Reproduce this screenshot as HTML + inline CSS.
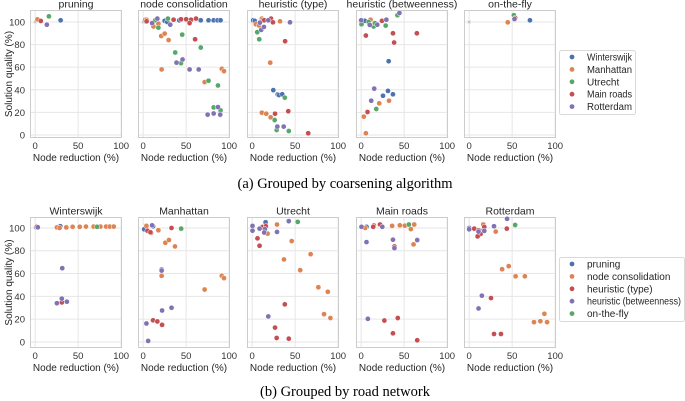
<!DOCTYPE html>
<html><head><meta charset="utf-8"><style>
body{margin:0;background:#fff;}
svg{display:block;font-family:"Liberation Sans",sans-serif;}
</style></head><body>
<svg id="chart" width="685" height="401" viewBox="0 0 685 401" xmlns="http://www.w3.org/2000/svg"></svg>
<script>
const topTitles = ["pruning","node consolidation","heuristic (type)","heuristic (betweenness)","on-the-fly"];
const networks = ["Winterswijk","Manhattan","Utrecht","Main roads","Rotterdam"];
const algorithms = ["pruning","node consolidation","heuristic (type)","heuristic (betweenness)","on-the-fly"];
const colors = ["#4c72b0","#dd8452","#55a868","#c44e52","#8172b3"];
const xTicks = [0,50,100];
const yTicks = [0,20,40,60,80,100];

const prunW=[[29.6,101.5]];
const prunM=[[2.7,102.3]];
const prunU=[[16,105]];
const prunR=[[6.6,100.9]];
const prunT=[[13.6,97.6]];
const ncW=[[25,101],[28,100],[42,101.5],[67,101.5],[76,101.5],[82,101.5],[86.5,101.5],[90,101.5]];
const ncM=[[2.3,102],[4,102],[12,96],[17.7,98.5],[21,87.6],[25,89.7],[29.6,84],[21.5,58],[71.5,46.8],[91.5,58.5],[94,56.5]];
const ncU=[[14,101.5],[17.7,95],[28.8,103],[37.3,73],[45.4,88.8],[44,63.5],[67,77.4],[76,48],[87,43.8],[82,24.4],[90,21.8]];
const ncR=[[4,100.6],[35.4,102],[44,102.4],[50,102.4],[55.7,102],[61.5,103],[54,99],[60.4,84.7]];
const ncT=[[10.4,99],[16.5,103],[31.5,97.6],[38.8,64],[45.8,66.8],[54,58],[64.6,58],[75,18],[82,19],[87,24.7],[89.6,18]];
const htW=[[1.2,101.5],[3,101],[24.6,39.7],[29.7,35.9],[31.2,35.3],[35,36]];
const htM=[[4.3,98],[7.8,97],[11.3,103],[32.4,100.6],[21,64],[11.3,19.7],[16.4,18.8],[21.5,15.6]];
const htU=[[5.9,91],[8.2,84.7],[12.9,102],[26.2,13.2],[28.5,4.4],[42.6,3.5],[38,33]];
const htR=[[21.9,103],[14,101.5],[24.2,99.7],[38.3,83],[42,21],[26.6,18.8],[65.2,1.5]];
const htT=[[9,99.4],[10.5,93],[13.7,95.6],[18.75,101.5],[44,99.7],[29.3,7.4],[36.7,7.4]];
const hbW=[[4.3,101],[32,65.3],[25.4,34.7],[31.2,39],[37,36]];
const hbM=[[10.9,102],[21,28],[32.4,30.3],[3.1,16.2],[5.5,1.5]];
const hbU=[[0.4,98],[8.6,100],[14.5,96],[16,99],[28.5,96.8],[42.2,106],[17.6,23]];
const hbR=[[5.5,88],[24.2,101],[37,90],[38.3,81.8],[64.8,90],[7.4,20.3]];
const hbT=[[0,101.5],[10,97.4],[18.75,97.6],[29.3,102],[44.5,108],[15.2,41],[11.7,30.3]];
const otfW=[[70.7,101.5]];
const otfM=[[44.9,99.7]];
const otfU=[[52,106]];
const otfR=[[53.5,103.5]];
const otfT=[[52.7,102.6]];

const botTitles = ["Winterswijk","Manhattan","Utrecht","Main roads","Rotterdam"];
const bWp=[[1.2,100.6],[29.2,101.5]];
const bWn=[[25.3,100.5],[28.4,100],[36.2,100.5],[43.6,101],[51.8,101],[59.1,101.2],[68,101.2],[75.9,101.2],[82.5,101.2],[86.8,101.2],[91.4,101.2],[2,101.5]];
const bWh=[[2,101],[31,34.7]];
const bWb=[[3.1,100.6],[31.5,64.7],[31,38],[25.3,34],[36.9,35.3]];
const bWo=[[72,101]];
const bMp=[[1.2,98.8],[11.5,101.5]];
const bMn=[[3.8,101.8],[17.7,98],[9.2,95.6],[25.8,87],[30,89.4],[37,83.8],[21.5,58],[71.5,46],[91.5,58],[94,56]];
const bMh=[[5,97.6],[8.5,96.2],[33,100],[11.5,19],[16.5,18],[22,15]];
const bMb=[[10.4,102.3],[21.5,63.6],[21.5,62.6],[22,27.6],[33,30],[3.8,16.2],[5.8,0.9]];
const bMo=[[44.2,99.4]];
const bUp=[[15.6,105]];
const bUn=[[28.9,103],[18,95],[46,88.5],[68,77],[37,72.4],[55.9,63],[77,48],[88,44],[83.6,24.4],[91,21]];
const bUh=[[12,100.9],[16,101.5],[6.2,90.9],[8.6,84.4],[38,33],[26.6,12.6],[28.5,3.5],[42.6,2.9]];
const bUb=[[0.4,101.8],[0.4,97.6],[8.6,99.4],[14.8,99],[14,96],[42.6,106],[28.9,96.5],[18.75,22.4]];
const bUo=[[53,105.3]];
const bRp=[[6.2,101]];
const bRn=[[4.7,100],[14.8,102.3],[36,101.8],[45,102.3],[50.8,102],[57.8,99],[61.7,103],[60.9,85.6]];
const bRh=[[14,101],[21.9,103],[38.7,83.8],[27,18.8],[42.6,21],[37,7.6],[65.2,1.5]];
const bRb=[[0.4,101],[24.6,101],[37,89.7],[6.2,87.6],[65.2,89.4],[38.7,82.3],[7.8,20.3]];
const bRo=[[55.5,103]];
const bTp=[[12.9,97.4]];
const bTn=[[16.4,103],[30.9,96.8],[38.3,63.8],[46,66.5],[54,57.6],[64.8,57.6],[87.5,24.7],[75.4,17.4],[82.8,18.2],[90.6,17.4]];
const bTh=[[5.9,99.4],[10.9,97.9],[13.3,94.7],[9.8,92.6],[17.6,100.9],[43.8,99.4],[25.4,38.5],[28.9,7],[37,7]];
const bTb=[[0,100],[0,98.8],[44.1,108],[28.9,101.5],[17.6,97.4],[10.9,96.8],[14.8,40.6],[10.9,29.4]];
const bTo=[[53.5,102.6]];

const topData=[[prunW,prunM,prunU,prunR,prunT],[ncW,ncM,ncU,ncR,ncT],[htW,htM,htU,htR,htT],[hbW,hbM,hbU,hbR,hbT],[otfW,otfM,otfU,otfR,otfT]];
const botData=[[bWp,bWn,bWh,bWb,bWo],[bMp,bMn,bMh,bMb,bMo],[bUp,bUn,bUh,bUb,bUo],[bRp,bRn,bRh,bRb,bRo],[bTp,bTn,bTh,bTb,bTo]];
const botColors=["#4c72b0","#dd8452","#c44e52","#8172b3","#55a868"];

const NS="http://www.w3.org/2000/svg";
const svg=document.getElementById('chart');
function el(tag,attrs,parent){const e=document.createElementNS(NS,tag);for(const k in attrs)e.setAttribute(k,attrs[k]);(parent||svg).appendChild(e);return e;}

const panelLefts=[30,138,247,356,464];
const PW=92;
const XMIN=-6,XMAX=101;

function drawRow(rowName,titles,data,cols,top,bottom,ymin,ymax,showGray){
  titles.forEach((t,i)=>{
    const L=panelLefts[i];
    const g=el('g',{});
    
    
    const sx=v=>L+(v-XMIN)/(XMAX-XMIN)*PW;
    const sy=v=>bottom-(v-ymin)/(ymax-ymin)*(bottom-top);
    el('rect',{x:L,y:top,width:PW,height:bottom-top,fill:'#fff'},g);
    yTicks.forEach(v=>{
      const ln=el('line',{x1:L,x2:L+PW,y1:sy(v),y2:sy(v),stroke:'#e6e6e6','stroke-width':1},g);
      
      
      if(i===0){const tx=el('text',{x:L-5,y:sy(v)+3.5,'text-anchor':'end','font-size':'9.5',fill:'#333'},g);tx.textContent=v;
        
        }
    });
    xTicks.forEach(v=>{
      const ln=el('line',{x1:sx(v),x2:sx(v),y1:top,y2:bottom,stroke:'#e6e6e6','stroke-width':1},g);
      
      
      const tx=el('text',{x:sx(v),y:bottom+11,'text-anchor':'middle','font-size':'9.5',fill:'#333'},g);tx.textContent=v;
      
      
    });
    el('rect',{x:L+0.5,y:top+0.5,width:PW-1,height:bottom-top-1,fill:'none',stroke:'#cccccc','stroke-width':1},g);
    const tt=el('text',{x:L+PW/2,y:top-2.5,'text-anchor':'middle','font-size':'10.5',fill:'#262626'},g);tt.textContent=t;
    
    
    const xl=el('text',{x:L+PW/2,y:bottom+23,'text-anchor':'middle','font-size':'10',fill:'#262626'},g);xl.textContent='Node reduction (%)';
    
    
    if(showGray){
      const gx=el('text',{x:sx(0),y:sy(100)+2.5,'text-anchor':'middle','font-size':'7',fill:'#aaa'},g);gx.textContent='×';
      
      
    }
    data[i].forEach((series,s)=>{
      series.forEach(p=>{
        const c=el('circle',{cx:sx(p[0]),cy:sy(p[1]),r:2.6,fill:cols[s],stroke:'#fff','stroke-width':0.5},g);
        
        
      });
    });
  });
  const yl=el('text',{transform:`translate(12,${(top+bottom)/2}) rotate(-90)`,'text-anchor':'middle','font-size':'10',fill:'#262626'});
  yl.textContent='Solution quality (%)';
  
  
}
drawRow('top',topTitles,topData,colors,10,138,-2.7,110.6,true);
drawRow('bottom',botTitles,botData,botColors,217,348,-5.3,109.6,false);

function legend(items,cols,x,y,w,h,name){
  const g=el('g',{});
  
  
  el('rect',{x:x+0.5,y:y+0.5,width:w,height:h,fill:'#fff',stroke:'#d9d9d9',rx:2},g);
  items.forEach((t,i)=>{
    const yy=y+7+i*12.4;
    const e=el('g',{},g);
    
    
    el('circle',{cx:x+13,cy:yy,r:2.4,fill:cols[i]},e);
    const tx=el('text',{x:x+28,y:yy+3.5,'font-size':'10',fill:'#262626'},e);tx.textContent=t;
    const maxW=w-31;
    if(tx.getComputedTextLength()>maxW){tx.setAttribute('textLength',maxW);tx.setAttribute('lengthAdjust','spacingAndGlyphs');}
  });
}
legend(networks,colors,559,50,76,64,'network-legend');
legend(algorithms,botColors,559,257,125,64,'algorithm-legend');

const c1=el('text',{x:345,y:188,'text-anchor':'middle','font-size':'14.5','font-family':'"Liberation Serif",serif',fill:'#000'});
c1.textContent='(a) Grouped by coarsening algorithm';


const c2=el('text',{x:345,y:396,'text-anchor':'middle','font-size':'14.5','font-family':'"Liberation Serif",serif',fill:'#000'});
c2.textContent='(b) Grouped by road network';


</script>
</body></html>
